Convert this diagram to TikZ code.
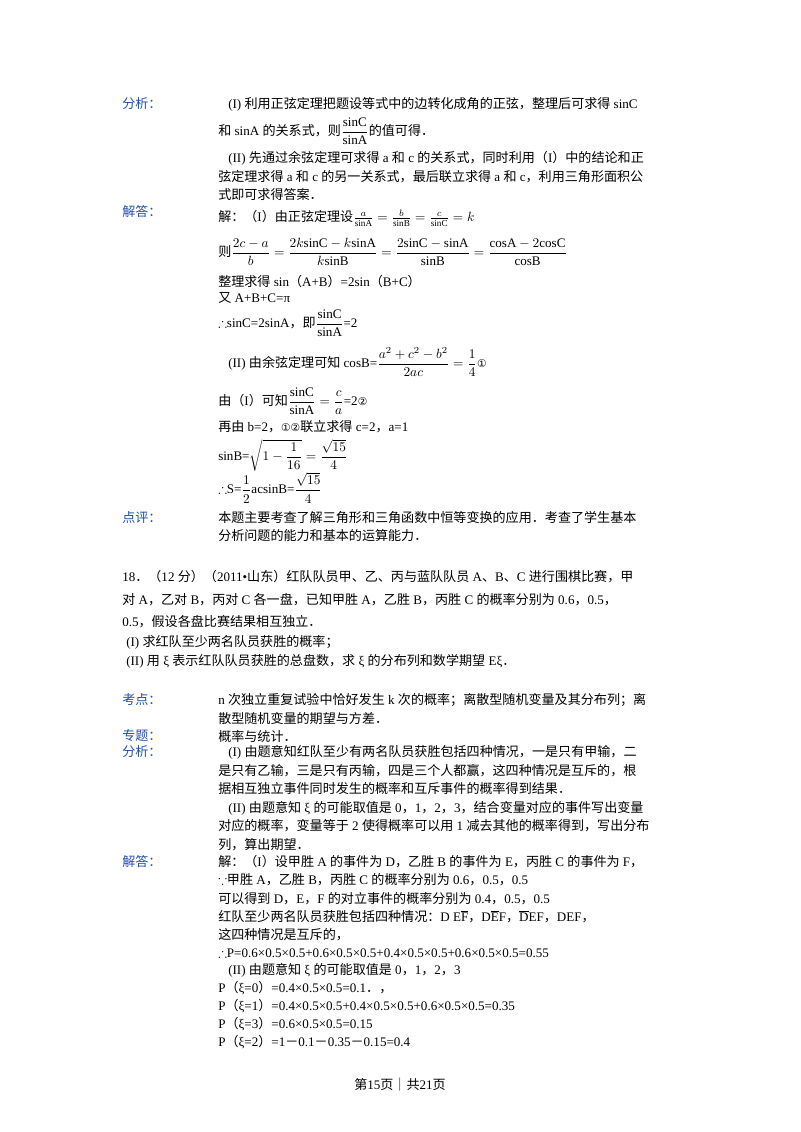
\documentclass[tikz,border=0pt]{standalone}
\usepackage{amsmath,amssymb}
\usepackage{fontspec}
\setmainfont{Liberation Serif}
\newfontfamily\cj{Noto Sans CJK SC}
\newfontfamily\dv{DejaVu Sans}
\XeTeXinterchartokenstate=1
\newXeTeXintercharclass\CJKcls
\count255="4E00 \loop\XeTeXcharclass\count255=\CJKcls \advance\count255 by 1 \ifnum\count255<"9FFF\repeat
\count255="3000 \loop\XeTeXcharclass\count255=\CJKcls \advance\count255 by 1 \ifnum\count255<"3040\repeat
\count255="FF00 \loop\XeTeXcharclass\count255=\CJKcls \advance\count255 by 1 \ifnum\count255<"FF5F\repeat
\XeTeXinterchartoks 0 \CJKcls = {\begingroup\cj}
\XeTeXinterchartoks 4095 \CJKcls = {\begingroup\cj}
\XeTeXinterchartoks \CJKcls 0 = {\endgroup}
\XeTeXinterchartoks \CJKcls 4095 = {\endgroup}
\definecolor{lab}{RGB}{30,80,170}
\newcommand\ci[1]{{\dv\fontsize{8pt}{10pt}\selectfont #1}}
\tikzset{tx/.style={anchor=west,inner sep=0pt,font=\fontsize{9.8pt}{12pt}\selectfont},
 lb/.style={tx,text=lab}}
\newcommand\Ln[3]{\node[tx] at (#2,-#1) {#3};}
\newcommand\Lb[2]{\node[lb] at (122,-#1) {#2};}
\begin{document}
\begin{tikzpicture}[x=0.75pt,y=0.75pt]
\useasboundingbox (0,0) rectangle (800,-1132);
\Lb{104}{分析：}
\Ln{104}{228}{(I) 利用正弦定理把题设等式中的边转化成角的正弦，整理后可求得 sinC}
\Ln{131}{218}{和 sinA 的关系式，则$\dfrac{\mathrm{sinC}}{\mathrm{sinA}}$的值可得．}
\Ln{158}{228}{(II) 先通过余弦定理可求得 a 和 c 的关系式，同时利用（I）中的结论和正}
\Ln{177}{218}{弦定理求得 a 和 c 的另一关系式，最后联立求得 a 和 c，利用三角形面积公}
\Ln{195}{218}{式即可求得答案．}
\Lb{212}{解答：}
\Ln{218}{218}{解：（I）由正弦定理设$\frac{a}{\mathrm{sinA}}=\frac{b}{\mathrm{sinB}}=\frac{c}{\mathrm{sinC}}=k$}
\Ln{252}{218}{则$\dfrac{2c-a}{b}=\dfrac{2k\mathrm{sinC}-k\mathrm{sinA}}{k\mathrm{sinB}}=\dfrac{2\mathrm{sinC}-\mathrm{sinA}}{\mathrm{sinB}}=\dfrac{\mathrm{cosA}-2\mathrm{cosC}}{\mathrm{cosB}}$}
\Ln{282}{218}{整理求得 sin（A+B）=2sin（B+C）}
\Ln{298}{218}{又 A+B+C=π}
\Ln{323}{218}{$\therefore$sinC=2sinA，即$\dfrac{\mathrm{sinC}}{\mathrm{sinA}}$=2}
\Ln{362}{228}{(II) 由余弦定理可知 cosB=$\dfrac{a^2+c^2-b^2}{2ac}=\dfrac14$\ci{①}}
\Ln{401}{218}{由（I）可知$\dfrac{\mathrm{sinC}}{\mathrm{sinA}}=\dfrac{c}{a}$=2\ci{②}}
\Ln{427}{218}{再由 b=2，\ci{①②}联立求得 c=2，a=1}
\Ln{455}{218}{sinB=$\sqrt{1-\dfrac1{16}}=\dfrac{\sqrt{15}}4$}
\Ln{488}{218}{$\therefore$S=$\dfrac12$acsinB=$\dfrac{\sqrt{15}}4$}
\Lb{518}{点评：}
\Ln{518}{218}{本题主要考查了解三角形和三角函数中恒等变换的应用．考查了学生基本}
\Ln{536}{218}{分析问题的能力和基本的运算能力．}
\Ln{577}{122}{18．（12 分）（2011•山东）红队队员甲、乙、丙与蓝队队员 A、B、C 进行围棋比赛，甲}
\Ln{600}{122}{对 A，乙对 B，丙对 C 各一盘，已知甲胜 A，乙胜 B，丙胜 C 的概率分别为 0.6，0.5，}
\Ln{622}{122}{0.5，假设各盘比赛结果相互独立．}
\Ln{642}{126}{(I) 求红队至少两名队员获胜的概率；}
\Ln{661}{126}{(II) 用 ξ 表示红队队员获胜的总盘数，求 ξ 的分布列和数学期望 Eξ．}
\Lb{700}{考点：}
\Ln{700}{218}{n 次独立重复试验中恰好发生 k 次的概率；离散型随机变量及其分布列；离}
\Ln{718}{218}{散型随机变量的期望与方差．}
\Lb{736}{专题：}
\Ln{736}{218}{概率与统计．}
\Lb{752}{分析：}
\Ln{752}{228}{(I) 由题意知红队至少有两名队员获胜包括四种情况，一是只有甲输，二}
\Ln{771}{218}{是只有乙输，三是只有丙输，四是三个人都赢，这四种情况是互斥的，根}
\Ln{789}{218}{据相互独立事件同时发生的概率和互斥事件的概率得到结果．}
\Ln{808}{228}{(II) 由题意知 ξ 的可能取值是 0，1，2，3，结合变量对应的事件写出变量}
\Ln{826}{218}{对应的概率，变量等于 2 使得概率可以用 1 减去其他的概率得到，写出分布}
\Ln{845}{218}{列，算出期望．}
\Lb{862}{解答：}
\Ln{862}{218}{解：（I）设甲胜 A 的事件为 D，乙胜 B 的事件为 E，丙胜 C 的事件为 F，}
\Ln{880}{218}{$\because$甲胜 A，乙胜 B，丙胜 C 的概率分别为 0.6，0.5，0.5}
\Ln{899}{218}{可以得到 D，E，F 的对立事件的概率分别为 0.4，0.5，0.5}
\Ln{917}{218}{红队至少两名队员获胜包括四种情况：D E$\overline{\mathrm{F}}$，D$\overline{\mathrm{E}}$F，$\overline{\mathrm{D}}$EF，DEF，}
\Ln{935}{218}{这四种情况是互斥的，}
\Ln{953}{218}{$\therefore$P=0.6×0.5×0.5+0.6×0.5×0.5+0.4×0.5×0.5+0.6×0.5×0.5=0.55}
\Ln{970}{228}{(II) 由题意知 ξ 的可能取值是 0，1，2，3}
\Ln{988}{218}{P（ξ=0）=0.4×0.5×0.5=0.1．，}
\Ln{1006}{218}{P（ξ=1）=0.4×0.5×0.5+0.4×0.5×0.5+0.6×0.5×0.5=0.35}
\Ln{1024}{218}{P（ξ=3）=0.6×0.5×0.5=0.15}
\Ln{1042}{218}{P（ξ=2）=1－0.1－0.35－0.15=0.4}
\node[tx,anchor=center] at (400,-1085) {第15页｜共21页};
\end{tikzpicture}
\end{document}
